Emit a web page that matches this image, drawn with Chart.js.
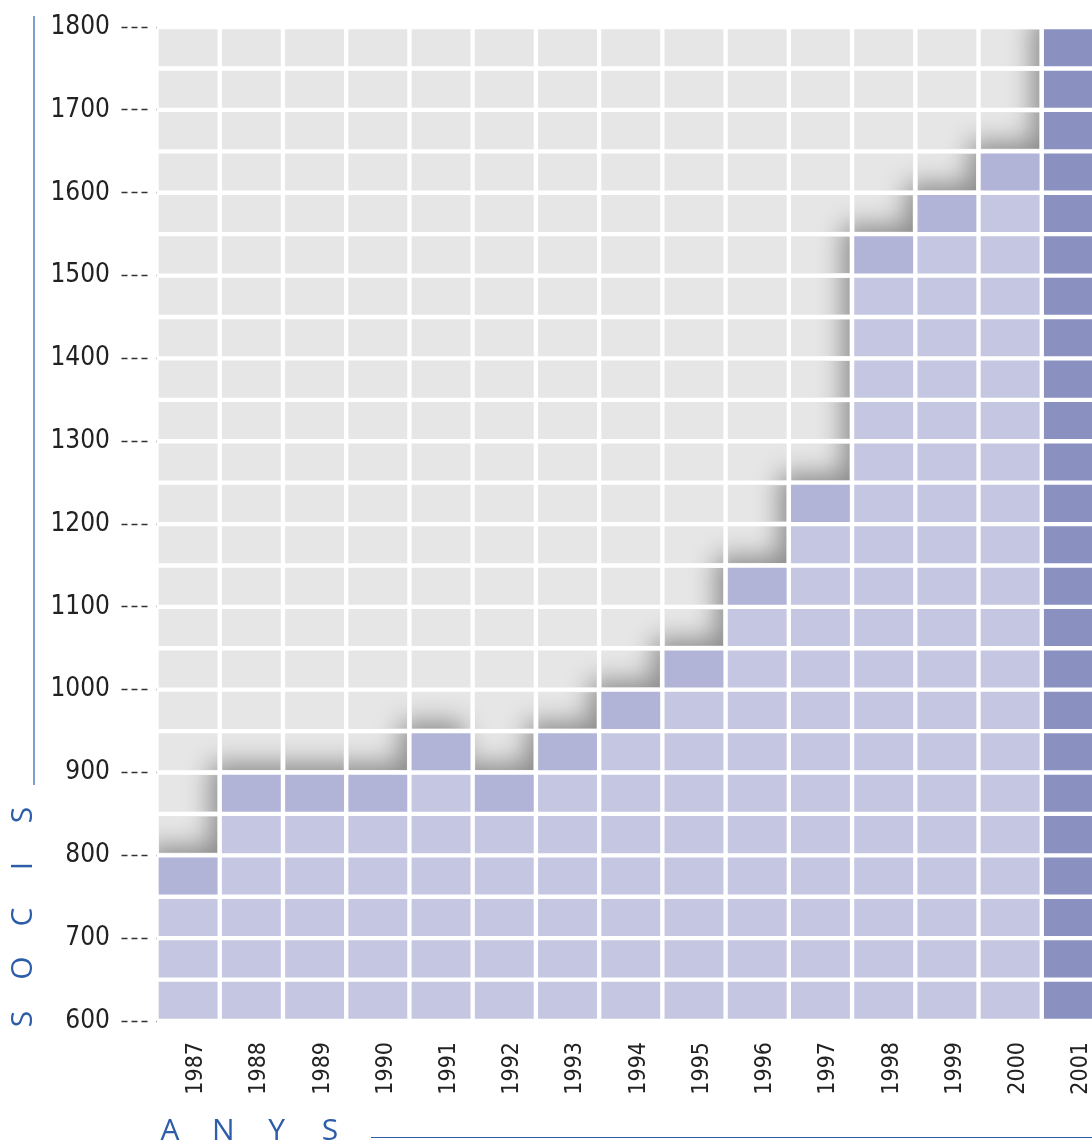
<!DOCTYPE html>
<html>
<head>
<meta charset="utf-8">
<script src="https://cdn.jsdelivr.net/npm/chart.js@4/dist/chart.umd.min.js"></script>
<style>
  html, body { margin: 0; padding: 0; background: #fff; overflow: hidden; }
  #wrap { width: 1105px; height: 1144px; }
</style>
</head>
<body>
<div id="wrap"><canvas id="sociChart" width="1105" height="1144"></canvas></div>
<script>
// anys i socis (llegits del gràfic)
var years = ['1987', '1988', '1989', '1990', '1991', '1992', '1993', '1994',
             '1995', '1996', '1997', '1998', '1999', '2000', '2001'];
var socis = [800, 900, 900, 900, 950, 900, 950, 1000,
             1050, 1150, 1250, 1550, 1600, 1650, 1800];
var yTicks = [600, 700, 800, 900, 1000, 1100, 1200, 1300, 1400, 1500, 1600, 1700, 1800];
var cellSize = 50;          // cada casella = 50 socis
var currentYear = '2001';

var colGrey = '#e6e6e6';
var colLight = '#c5c7e2';
var colTop = '#b1b4d6';
var colCurrent = '#8a91c1';
var blue = '#2d5ca8';
var narrow = "'Liberation Sans Narrow', 'DejaVu Sans Condensed', 'Roboto', sans-serif";

var yMin = yTicks[0], yMax = yTicks[yTicks.length - 1];

// one floating-bar dataset per band of 50 socis
var datasets = [];
for (var lo = yMin; lo < yMax; lo += cellSize) {
    var hi = lo + cellSize;
    datasets.push({
        data: years.map(function () { return [lo, hi]; }),
        backgroundColor: years.map(function (yr, i) {
            if (hi > socis[i]) return colGrey;
            if (yr === currentYear) return colCurrent;
            if (hi === socis[i]) return colTop;
            return colLight;
        }),
        borderColor: '#ffffff',
        borderWidth: 2.5,
        borderSkipped: false,
        categoryPercentage: 1,
        barPercentage: 1
    });
}

// shadow of the blue steps on the grey cells
var stepShadow = {
    id: 'stepShadow',
    afterDatasetsDraw: function (chart) {
        var ctx = chart.ctx, area = chart.chartArea;
        var x = chart.scales.x, y = chart.scales.y;
        var b = 2.5;
        ctx.save();
        ctx.beginPath();
        chart.data.datasets.forEach(function (ds, k) {
            chart.getDatasetMeta(k).data.forEach(function (bar, i) {
                if (ds.data[i][1] <= socis[i]) return;
                var p = bar.getProps(['x', 'y', 'base', 'width'], true);
                var top = Math.min(p.y, p.base);
                ctx.rect(p.x - p.width / 2 + b, top + b, p.width - 2 * b, Math.abs(p.base - p.y) - 2 * b);
            });
        });
        ctx.clip();
        var far = 4000;
        var pitch = x.getPixelForValue(1) - x.getPixelForValue(0);
        ctx.shadowColor = 'rgba(0,0,0,0.4)';
        ctx.shadowBlur = 26;
        ctx.shadowOffsetX = far - 9;
        ctx.shadowOffsetY = -9;
        ctx.beginPath();
        years.forEach(function (yr, i) {
            var cx = x.getPixelForValue(i);
            var top = y.getPixelForValue(socis[i]);
            ctx.rect(cx - pitch / 2 - far, top, pitch, area.bottom + 60 - top);
        });
        ctx.fillStyle = '#000';
        ctx.fill();
        ctx.restore();
    }
};

// axis titles with their lines
var axisTitles = {
    id: 'axisTitles',
    afterDraw: function (chart) {
        var ctx = chart.ctx, area = chart.chartArea;
        ctx.save();
        ctx.fillStyle = blue;
        ctx.strokeStyle = blue;
        ctx.lineWidth = 1.2;
        ctx.font = "30px 'Open Sans', sans-serif";
        ctx.textAlign = 'center';
        ctx.textBaseline = 'middle';

        var ys = 'SOCIS';
        for (var i = 0; i < ys.length; i++) {
            ctx.save();
            ctx.translate(22.5, 1019 - i * 51);
            ctx.rotate(-Math.PI / 2);
            ctx.fillText(ys[i], 0, 1);
            ctx.restore();
        }
        ctx.beginPath();
        ctx.moveTo(34, 16);
        ctx.lineTo(34, 785);
        ctx.stroke();

        var xs = 'ANYS';
        for (var j = 0; j < xs.length; j++) {
            ctx.fillText(xs[j], area.left + 13.5 + j * 53.3, 1131);
        }
        ctx.beginPath();
        ctx.moveTo(371, 1137.5);
        ctx.lineTo(chart.width, 1137.5);
        ctx.stroke();
        ctx.restore();
    }
};

var ctx = document.getElementById('sociChart');
var sociChart = new Chart(ctx, {
    type: 'bar',
    data: {
        labels: years,
        datasets: datasets
    },
    options: {
        responsive: false,
        animation: false,
        devicePixelRatio: 1,
        layout: { padding: { top: 25, left: 0, right: 0, bottom: 0 } },
        plugins: {
            legend: { display: false },
            tooltip: { enabled: false },
            title: { display: false }
        },
        scales: {
            x: {
                stacked: true,
                afterFit: function (scale) {
                    scale.height = 123;
                    scale.paddingLeft = 0;
                    scale.paddingRight = 0;
                },
                grid: { display: false, drawTicks: false },
                border: { display: false },
                ticks: {
                    minRotation: 90,
                    maxRotation: 90,
                    padding: 21,
                    labelOffset: 8,
                    color: '#222',
                    font: { family: narrow, size: 23 }
                }
            },
            y: {
                min: yMin,
                max: yMax,
                afterFit: function (scale) { scale.width = 156.5; },
                afterBuildTicks: function (scale) {
                    scale.ticks = yTicks.map(function (v) { return { value: v }; });
                },
                grid: {
                    drawOnChartArea: false,
                    drawTicks: true,
                    tickLength: 35,
                    tickBorderDash: [6, 4, 6, 4, 6, 9],
                    tickColor: '#333',
                    tickWidth: 1.4
                },
                border: { display: false },
                ticks: {
                    padding: 11.5,
                    color: '#222',
                    font: { family: narrow, size: 26 },
                    callback: function (v) { return String(v); }
                }
            }
        }
    },
    plugins: [stepShadow, axisTitles]
});
</script>
</body>
</html>
